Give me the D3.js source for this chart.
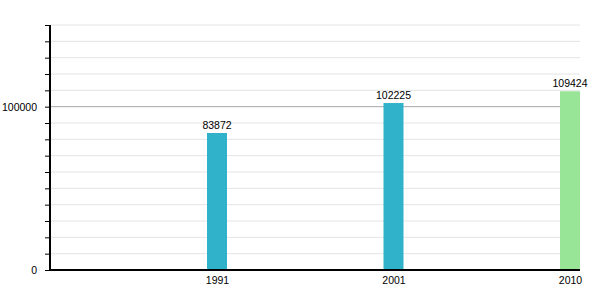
<!DOCTYPE html>
<html lang="en">
<head>
    <meta charset="UTF-8">
    <title>Population bars</title>
    <script src="https://d3js.org/d3.v7.min.js"></script>
    <style>
        body { margin: 0; background: #fff; }
        text { font-family: "Liberation Sans", Arial, sans-serif; }
    </style>
</head>
<body>
    <div id="chart"></div>

    <script>
        // Data
        const years = ["1991", "2001", "2010"];
        const population = [83872, 102225, 109424];
        const barColors = ["#31b2cb", "#31b2cb", "#98e598"];
        const yLabelTicks = [0, 100000];

        const svgWidth = 600;
        const svgHeight = 300;
        const plotLeft = 50, plotRight = 580, plotTop = 25, plotBottom = 270;

        const svg = d3.select("#chart")
            .append("svg")
            .attr("width", svgWidth)
            .attr("height", svgHeight);

        const xScale = d3.scalePoint()
            .domain(years)
            .range([217, 570]);

        const yScale = d3.scaleLinear()
            .domain([0, 150000])
            .range([plotBottom, plotTop]);

        const minorTicks = d3.range(10000, 150001, 10000);

        // gridlines
        svg.append("g")
            .selectAll("line")
            .data(minorTicks)
            .enter().append("line")
            .attr("x1", plotLeft)
            .attr("x2", plotRight)
            .attr("y1", d => yScale(d))
            .attr("y2", d => yScale(d))
            .attr("stroke", d => d === 100000 ? "#a8a8a8" : "#e4e4e4")
            .attr("stroke-width", 1);

        // bars
        svg.selectAll(".bar")
            .data(population)
            .enter().append("rect")
            .attr("class", "bar")
            .attr("x", (d, i) => xScale(years[i]) - 10)
            .attr("y", d => yScale(d))
            .attr("width", 20)
            .attr("height", d => plotBottom - yScale(d))
            .attr("fill", (d, i) => barColors[i]);

        // value labels
        svg.selectAll(".val")
            .data(population)
            .enter().append("text")
            .attr("class", "val")
            .attr("x", (d, i) => xScale(years[i]))
            .attr("y", d => yScale(d) - 4)
            .attr("text-anchor", "middle")
            .style("font-size", "10.5px")
            .text(d => d);

        // y axis
        const yAxis = svg.append("g")
            .attr("transform", `translate(${plotLeft},0)`)
            .call(d3.axisLeft(yScale)
                .tickValues([0].concat(minorTicks))
                .tickSize(5)
                .tickFormat(d => yLabelTicks.includes(d) ? d : ""));
        yAxis.select(".domain").attr("stroke", "#000").attr("stroke-width", 2)
            .attr("d", `M0,${plotTop}V${plotBottom}`);
        yAxis.selectAll(".tick line").attr("stroke", "#000");
        yAxis.selectAll(".tick text")
            .attr("x", -13)
            .style("font-size", "10.5px")
            .style("font-family", "'Liberation Sans', Arial, sans-serif")
            .attr("fill", "#000");

        // x axis
        const xAxis = svg.append("g")
            .attr("transform", `translate(0,${plotBottom})`)
            .call(d3.axisBottom(xScale).tickSize(0).tickPadding(7));
        xAxis.select(".domain").attr("stroke", "#000").attr("stroke-width", 2)
            .attr("d", `M${plotLeft},0H${plotRight}`);
        xAxis.selectAll(".tick text")
            .style("font-size", "10.5px")
            .style("font-family", "'Liberation Sans', Arial, sans-serif")
            .attr("fill", "#000");
    </script>
</body>
</html>
